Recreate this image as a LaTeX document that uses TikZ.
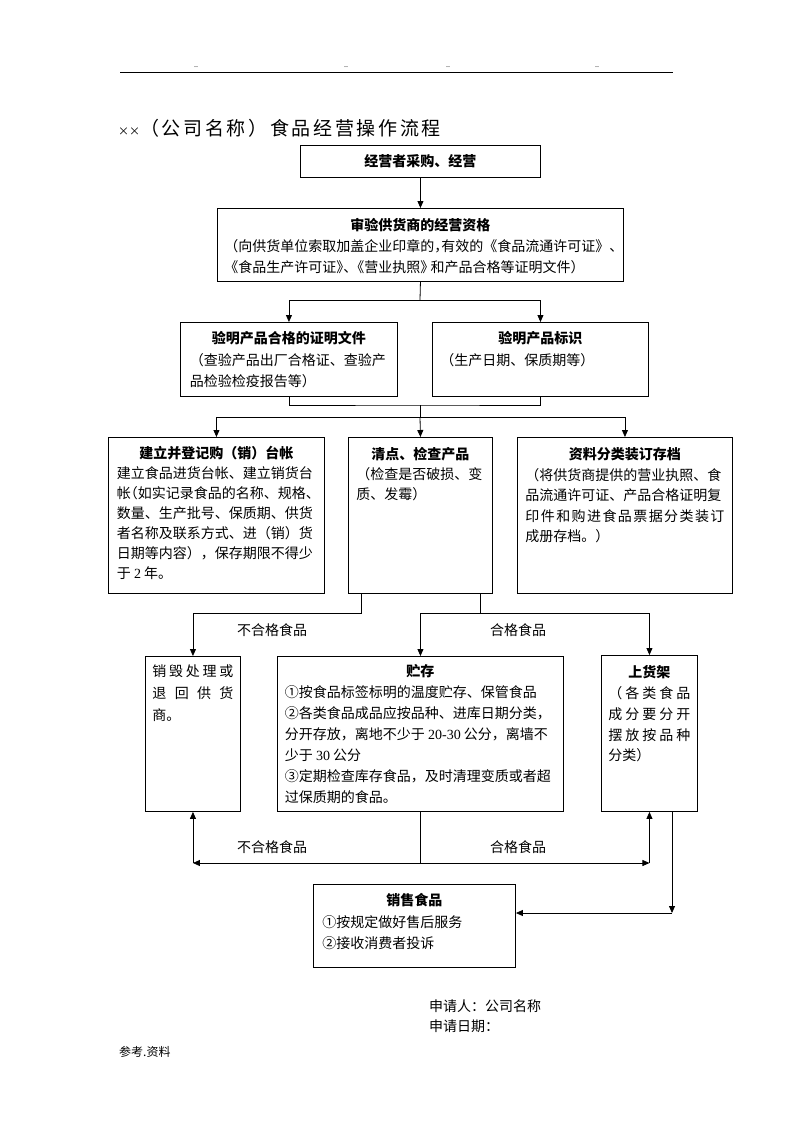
\documentclass[tikz,border=0pt]{standalone}
\usepackage{fontspec}
\setmainfont{Noto Sans CJK SC}
\newfontfamily\cjkh[RawFeature=+halt]{Noto Sans CJK SC}
\newfontfamily\titlefont[LetterSpace=14]{Noto Sans CJK SC}
\newfontfamily\latinf{Liberation Serif}
\usetikzlibrary{arrows.meta}
\newcommand\hw[1]{{\cjkh #1}}
\newcommand\boxtext[4]{\parbox[c][#1][t]{#2}{\fontsize{14}{#3}\selectfont #4}}
\newcommand\ttl[2]{{\centering\bfseries\rule{0pt}{#1}#2\par}}
\newcommand\fst[1]{\rule{0pt}{#1}}
\begin{document}
\begin{tikzpicture}[x=1pt,y=-1pt,
  box/.style={draw, line width=0.9pt, inner sep=0pt, anchor=north west},
  arr/.style={draw, line width=0.8pt, -{Triangle[length=7pt,width=6pt]}},
  ln/.style={draw, line width=0.8pt},
  lbl/.style={font=\fontsize{14}{16}\selectfont, inner sep=0pt},
  dots/.style={font=\latinf\fontsize{8}{9}\selectfont, inner sep=0pt}]
\path[use as bounding box] (0,0) rectangle (793,1122);

% header
\coordinate (hl) at (120,72);
\coordinate (hr) at (673,72);
\draw[line width=0.7pt] (hl) -- (hr);
\node[dots] (d1) at (196,67) {..};
\node[dots] (d2) at (346,67) {..};
\node[dots] (d3) at (448,67) {..};
\node[dots] (d4) at (597,67) {..};

% title
\node[anchor=west, inner sep=0pt] (title) at (118,128) {{\fontsize{11}{12}\selectfont ××}\titlefont\fontsize{19}{22}\selectfont （公司名称）食品经营操作流程};

% boxes
\node[box, minimum width=240pt, minimum height=32pt, font=\fontsize{14}{16}\selectfont\bfseries] (n1) at (300,145) {经营者采购、经营};

\node[box, minimum width=406pt, minimum height=73pt] (n2) at (217,208) {\boxtext{73pt}{392pt}{21}{\ttl{22.3pt}{审验供货商的经营资格}
（向供货单位索取加盖企业印章的\hw{，}有效的《食品流通许可证》、\\
《食品生产许可证\hw{》、}《营业执照\hw{》} 和产品合格等证明文件）}};

\node[box, minimum width=217pt, minimum height=74pt] (nA) at (180,322) {\boxtext{74pt}{198pt}{21.5}{\ttl{21.3pt}{验明产品合格的证明文件}
（查验产品出厂合格证、查验产\\
品检验检疫报告等）}};

\node[box, minimum width=216pt, minimum height=74pt] (nB) at (432,322) {\boxtext{74pt}{200pt}{21.5}{\ttl{21.3pt}{验明产品标识}
（生产日期、保质期等）}};

\node[box, minimum width=216pt, minimum height=156pt] (nC) at (108,437) {\boxtext{156pt}{199pt}{20}{\ttl{21.3pt}{建立并登记购（销）台帐}
建立食品进货台帐、建立销货台\\
帐\hw{（}如实记录食品的名称、规格\hw{、}\\
数量、生产批号、保质期、供货\\
者名称及联系方式、进（销）货\\
日期等内容），保存期限不得少\\
于 {\latinf 2} 年。}};

\node[box, minimum width=144pt, minimum height=156pt] (nD) at (348,437) {\boxtext{156pt}{128pt}{20}{\ttl{22.3pt}{清点、检查产品}
（检查是否破损、变\\
质、发霉）}};

\node[box, minimum width=215pt, minimum height=156pt] (nE) at (517,437) {\boxtext{156pt}{199pt}{20.5}{\ttl{22.3pt}{资料分类装订存档}
（将供货商提供的营业执照、食\\
品流通许可证、产品合格证明复\\
\makebox[\linewidth][s]{印\hfill 件\hfill 和\hfill 购\hfill 进\hfill 食\hfill 品\hfill 票\hfill 据\hfill 分\hfill 类\hfill 装\hfill 订}\\
成册存档。）}};

\node[box, minimum width=95pt, minimum height=155pt] (nF) at (145,656) {\boxtext{155pt}{81pt}{22}{\fst{20.3pt}\makebox[\linewidth][s]{销\hfill 毁\hfill 处\hfill 理\hfill 或}\\
\makebox[\linewidth][s]{退\hfill 回\hfill 供\hfill 货}\\
商。}};

\node[box, minimum width=286pt, minimum height=155pt] (nG) at (277,656) {\boxtext{155pt}{271pt}{21}{\ttl{20.3pt}{贮存}
①按食品标签标明的温度贮存、保管食品\\
②各类食品成品应按品种、进库日期分类，\\
分开存放，离地不少于 {\latinf 20-30} 公分，离墙不\\
少于 {\latinf 30} 公分\\
③定期检查库存食品，及时清理变质或者超\\
过保质期的食品。}};

\node[box, minimum width=96pt, minimum height=156pt] (nH) at (601,655) {\boxtext{156pt}{82pt}{20.75}{\ttl{22.3pt}{上货架}
\makebox[\linewidth][s]{（\hfill 各\hfill 类\hfill 食\hfill 品}\\
\makebox[\linewidth][s]{成\hfill 分\hfill 要\hfill 分\hfill 开}\\
\makebox[\linewidth][s]{摆\hfill 放\hfill 按\hfill 品\hfill 种}\\
分类）}};

\node[box, minimum width=202pt, minimum height=83pt] (nI) at (313,884) {\boxtext{83pt}{184pt}{21.5}{\ttl{21.3pt}{销售食品}
①按规定做好售后服务\\
②接收消费者投诉}};

% connectors
\draw[arr] (n1.south) -- (n1.south |- n2.north);
\coordinate (j1) at (420,300);
\draw[ln] (n2.south) -- (j1);
\draw[arr] (j1) -| (nA.north);
\draw[arr] (j1) -| (nB.north);
\coordinate (j2) at (420,405);
\coordinate (j3) at (420,417);
\draw[ln] (nA.south) |- (j2) -| (nB.south);
\draw[ln] (j2) -- (j3);
\draw[arr] (j3) -| (nC.north);
\draw[arr] (j3) -- (nD.north);
\draw[arr] (j3) -| (nE.north);

\coordinate (k1) at (361,613);
\coordinate (k2) at (480,613);
\draw[arr] (k1 |- nD.south) -- (k1) -| (nF.north);
\draw[ln] (k2 |- nD.south) -- (k2);
\draw[arr] (k2) -| (nG.north);
\draw[arr] (k2) -| (nH.north);
\node[lbl] (l1) at (272,630) {不合格食品};
\node[lbl] (l2) at (518,630) {合格食品};

\coordinate (m) at (420,863);
\coordinate (cL) at (nF.south |- m);
\coordinate (cR) at (nH.south |- m);
\draw[arr] (nG.south) |- (cL);
\draw[arr] (cL) -- (nF.south);
\draw[arr] (m) -- (cR);
\draw[arr] (cR) -- (nH.south);
\node[lbl] (l3) at (272,847) {不合格食品};
\node[lbl] (l4) at (518,847) {合格食品};

\coordinate (p2) at (672,913);
\draw[arr] (p2 |- nH.south) -- (p2);
\draw[arr] (p2) -- (p2 -| nI.east);

% footer
\node[lbl, anchor=west] (s1) at (429,1006) {申请人：公司名称};
\node[lbl, anchor=west] (s2) at (429,1026) {申请日期：};
\node[anchor=west, inner sep=0pt, font=\fontsize{12}{14}\selectfont] (ref) at (119,1052) {参考.资料};
\end{tikzpicture}
\end{document}
